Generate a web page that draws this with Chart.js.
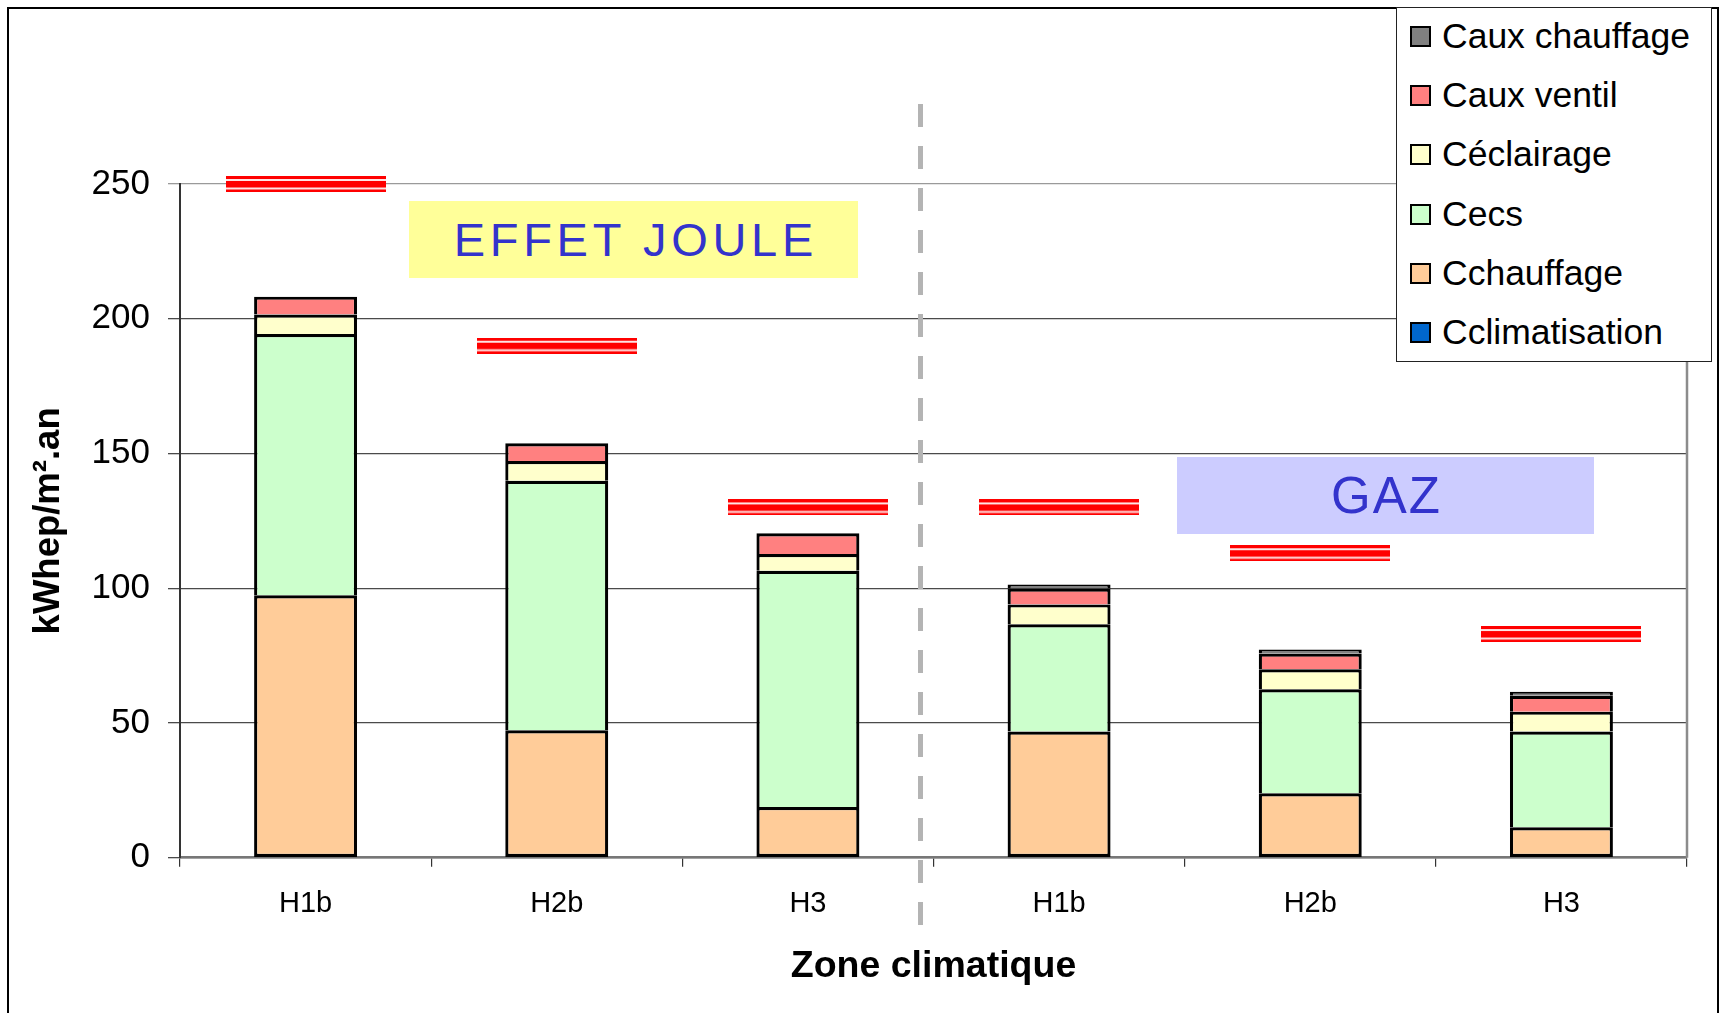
<!DOCTYPE html>
<html lang="fr">
<head>
<meta charset="utf-8">
<title>Consommations par zone climatique</title>
<script src="https://cdn.jsdelivr.net/npm/chart.js@4/dist/chart.umd.min.js"></script>
<style>
  html, body { margin: 0; padding: 0; background: #fff; }
  #wrap { position: relative; width: 1722px; height: 1013px; overflow: hidden;
          font-family: "Liberation Sans", Arial, sans-serif; }
  #cadre { position: absolute; left: 7px; top: 7px; width: 1712px; height: 1100px;
           border: 2px solid #000; box-sizing: border-box; }
  #graph { position: absolute; left: 0; top: 0; }
  .etiquette { position: absolute; display: flex; align-items: center; justify-content: center;
               color: #3333cc; white-space: nowrap; box-sizing: border-box; }
  #joule { left: 409px; top: 201px; width: 449px; height: 77px; background: #ffff99;
           font-size: 47px; letter-spacing: 4.7px; padding-left: 4.7px; }
  #gaz { left: 1177px; top: 457px; width: 417px; height: 77px; background: #ccccff;
         font-size: 51px; letter-spacing: 2px; padding-left: 2px; }
  #legende { position: absolute; left: 1396px; top: 7px; width: 316px; height: 355px;
             background: #fff; border: 1.5px solid #222; box-sizing: border-box; }
  .item { position: absolute; left: 0; height: 40px; display: flex; align-items: center;
          font-size: 35.5px; color: #000; white-space: nowrap; }
  .carre { width: 21px; height: 21px; border: 2px solid #000; box-sizing: border-box;
           margin-left: 13px; margin-right: 11px; flex: none; }
</style>
</head>
<body>
<div id="wrap">
  <div id="cadre"></div>
  <canvas id="graph" width="1722" height="1013"></canvas>
  <div id="joule" class="etiquette">EFFET JOULE</div>
  <div id="gaz" class="etiquette">GAZ</div>
  <div id="legende"></div>
</div>
<script>
// Zones climatiques : chauffage effet Joule (3 premières) puis gaz (3 dernières)
const zones = ['H1b', 'H2b', 'H3', 'H1b', 'H2b', 'H3'];

// Postes de consommation, kWhep/m².an
const cClimatisation = [0, 0, 0, 0, 0, 0];
const cChauffage     = [97.4, 47.3, 18.8, 46.8, 23.9, 11.3];
const cEcs           = [96.9, 92.6, 87.7, 39.8, 38.6, 35.5];
const cEclairage     = [7.3, 7.3, 6.2, 7.4, 7.4, 7.4];
const cAuxVentil     = [6.6, 6.6, 7.7, 5.9, 5.9, 5.9];
const cAuxChauffage  = [0, 0, 0, 1.5, 1.5, 1.5];

// Consommation maximale réglementaire par zone
const cepMax = [250, 190, 130, 130, 113, 83];

// Graduations de l'axe vertical
const yTicks = [0, 50, 100, 150, 200, 250];

// Séries empilées, du bas vers le haut
const series = [
  { label: 'Cclimatisation', data: cClimatisation, color: '#0066cc' },
  { label: 'Cchauffage',     data: cChauffage,     color: '#ffcc99' },
  { label: 'Cecs',           data: cEcs,           color: '#ccffcc' },
  { label: 'Céclairage',     data: cEclairage,     color: '#ffffcc' },
  { label: 'Caux ventil',    data: cAuxVentil,     color: '#ff8080' },
  { label: 'Caux chauffage', data: cAuxChauffage,  color: '#808080' }
];

// Symbole du seuil : trait rouge épais encadré de deux traits fins
function symboleSeuil() {
  const c = document.createElement('canvas');
  c.width = 160; c.height = 16;
  const g = c.getContext('2d');
  g.fillStyle = '#ffe4e4';
  g.fillRect(0, 0, 160, 16);
  g.fillStyle = '#ff0000';
  g.fillRect(0, 0, 160, 3);
  g.fillRect(0, 5, 160, 6.5);
  g.fillRect(0, 13.5, 160, 2.5);
  return c;
}

// Bord droit de la zone de tracé
const bordTrace = {
  id: 'bordTrace',
  beforeDatasetsDraw(chart) {
    const { ctx, chartArea: a } = chart;
    ctx.save();
    ctx.strokeStyle = '#8c8c8c';
    ctx.lineWidth = 2.5;
    ctx.beginPath();
    ctx.moveTo(a.right, a.top);
    ctx.lineTo(a.right, a.bottom);
    ctx.stroke();
    ctx.restore();
  }
};

// Séparation en tirets entre les deux énergies
const separation = {
  id: 'separation',
  afterDatasetsDraw(chart) {
    const { ctx } = chart;
    ctx.save();
    ctx.strokeStyle = '#b4b4b4';
    ctx.lineWidth = 5;
    ctx.setLineDash([23, 19]);
    ctx.beginPath();
    ctx.moveTo(920.5, 104);
    ctx.lineTo(920.5, 927);
    ctx.stroke();
    ctx.restore();
  }
};

const datasets = series.map((s, i) => ({
  type: 'bar',
  label: s.label,
  data: s.data,
  backgroundColor: s.color,
  borderColor: '#000',
  borderWidth: 3.2,
  borderSkipped: i === 1 ? false : 'start',
  stack: 'conso',
  categoryPercentage: 0.41,
  barPercentage: 1
}));

datasets.push({
  type: 'line',
  label: 'Cep max',
  data: cepMax,
  showLine: false,
  pointStyle: symboleSeuil(),
  stack: 'seuil',
  clip: false
});

const chart = new Chart(document.getElementById('graph'), {
  type: 'bar',
  data: { labels: zones, datasets },
  plugins: [bordTrace, separation],
  options: {
    responsive: false,
    devicePixelRatio: 1,
    animation: false,
    events: [],
    layout: { padding: { top: 184, right: 35, left: 0, bottom: 0 } },
    plugins: { legend: { display: false }, tooltip: { enabled: false } },
    scales: {
      x: {
        stacked: true,
        afterFit: s => { s.height = 155.3; },
        grid: { offset: true, drawOnChartArea: false, drawTicks: true, tickLength: 9,
                color: '#333', lineWidth: 1.2 },
        border: { display: true, color: '#777', width: 2.5 },
        ticks: { color: '#000', font: { family: 'Liberation Sans', size: 29 },
                 padding: 19.5, maxRotation: 0, autoSkip: false },
        title: { display: true, text: 'Zone climatique', color: '#000',
                 font: { family: 'Liberation Sans', size: 37.5, weight: 'bold' },
                 padding: { top: 0, bottom: 23.5 } }
      },
      y: {
        stacked: true,
        min: 0,
        max: 250,
        afterFit: s => { s.width = 180; },
        afterBuildTicks: s => { s.ticks = yTicks.map(v => ({ value: v })); },
        grid: { drawTicks: true, tickLength: 12, lineWidth: 1.3,
                color: c => (c.tick && c.tick.value === 250) ? '#9a9a9a' : '#4a4a4a' },
        border: { display: true, color: '#333', width: 2 },
        ticks: { color: '#000', font: { family: 'Liberation Sans', size: 35 }, padding: 18 },
        title: { display: true, text: 'kWhep/m².an', color: '#000',
                 font: { family: 'Liberation Sans', size: 36.5, weight: 'bold' },
                 padding: { top: 27.5, bottom: 0 } }
      }
    }
  }
});

// Légende, dans l'ordre inverse de l'empilement
const legende = document.getElementById('legende');
series.slice().reverse().forEach((s, i) => {
  const item = document.createElement('div');
  item.className = 'item';
  item.style.top = (29.7 + i * 59.3 - 20 - 1.5) + 'px';
  const carre = document.createElement('div');
  carre.className = 'carre';
  carre.style.background = s.color;
  const txt = document.createElement('span');
  txt.textContent = s.label;
  item.appendChild(carre);
  item.appendChild(txt);
  legende.appendChild(item);
});
</script>
</body>
</html>
